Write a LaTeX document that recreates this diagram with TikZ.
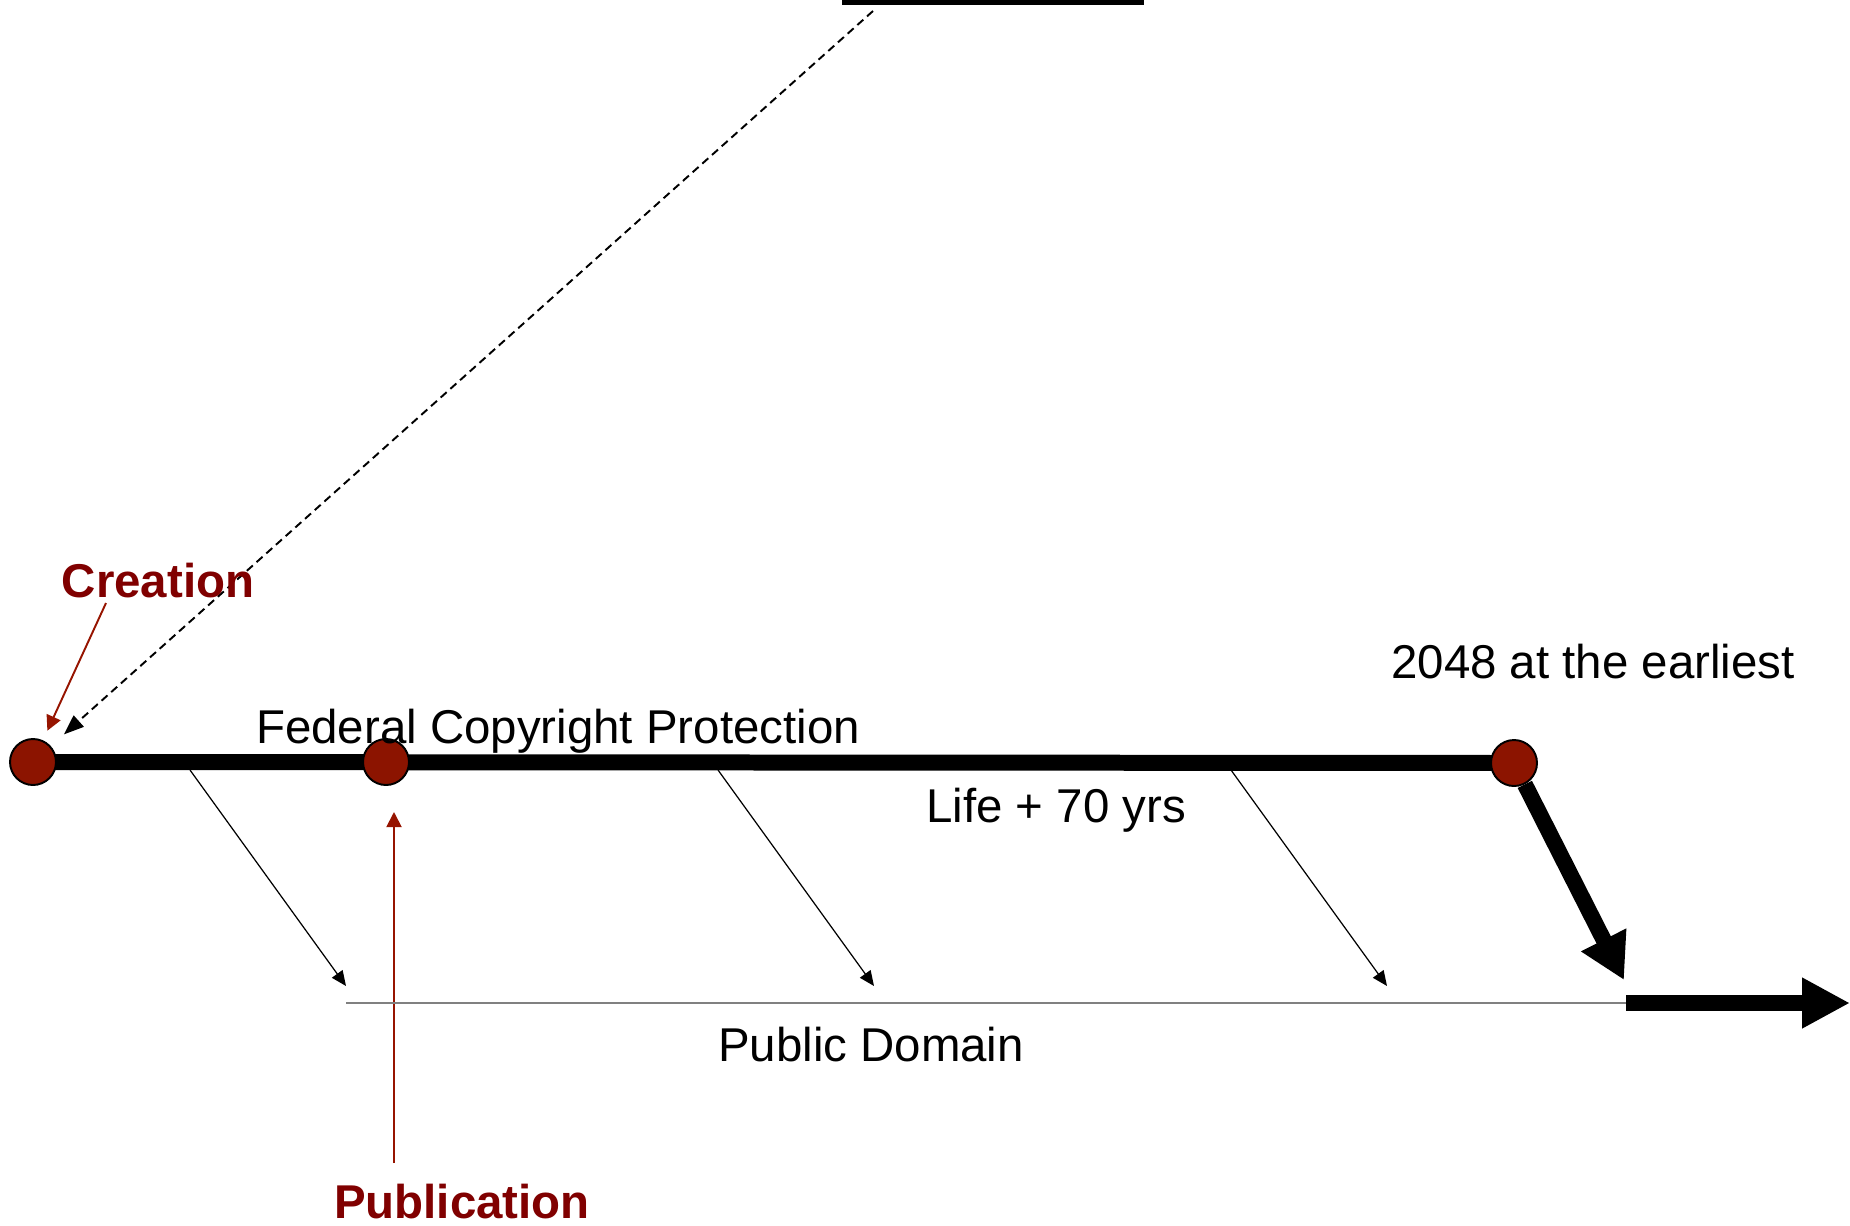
\documentclass[tikz,border=0pt]{standalone}
\usepackage{fontspec}
\setmainfont{Liberation Sans}
\usetikzlibrary{arrows.meta,backgrounds}
\definecolor{hito}{RGB}{140,20,0}
\definecolor{rotulo}{RGB}{128,0,0}
\definecolor{flecharoja}{RGB}{150,20,0}
\tikzset{
  dot/.style={circle,draw=black,line width=1.1pt,fill=hito,minimum size=0.92cm,inner sep=0pt},
  texto/.style={font=\fontsize{27}{32}\selectfont,anchor=base,inner sep=0pt},
  hitotexto/.style={font=\fontsize{27}{32}\selectfont\bfseries,text=rotulo,anchor=base,inner sep=0pt},
  grueso/.style={line width=0.32cm},
  fina/.style={line width=0.7pt,-{Triangle[length=0.3cm,width=0.26cm]}},
}
\begin{document}
\begin{tikzpicture}[x=0.02cm,y=-0.02cm]
\useasboundingbox (0,0) rectangle (1850,1225);

% Hitos
\node[dot] (cre) at (33,762) {};
\node[dot] (pub) at (386,762) {};
\node[dot] (fin) at (1514,763) {};

% Protección
\begin{scope}[on background layer]
\draw[grueso] (cre.center) -- (fin.center);
\end{scope}

% Barra superior y flecha punteada
\fill (842,0) rectangle (1144,5);
\coordinate (d0) at (873,11);
\draw[line width=1.1pt, dash pattern=on 0.16cm off 0.1cm, shorten >=0.35cm,
  -{Triangle[length=0.4cm,width=0.3cm]}] (d0) -- (cre);

% Textos
\node[hitotexto] (crelab) at (158,597) {Creation};
\node[hitotexto] (publab) at (462,1218) {Publication};
\node[texto] (prot) at (558,743) {Federal Copyright Protection};
\node[texto] (vida) at (1056,822) {Life + 70 yrs};
\node[texto] (fecha) at (1593,678) {2048 at the earliest};
\node[texto] (dominio) at (871,1061) {Public Domain};

% Flechas rojas
\coordinate (c0) at (106,603);
\draw[flecharoja, line width=1.1pt, shorten >=0.21cm,
  -{Triangle[length=0.3cm,width=0.3cm]}] (c0) -- (cre);
\coordinate (p0) at (394,1163);
\coordinate (p1) at (394,812);
\draw[flecharoja, line width=1.1pt, -{Triangle[length=0.3cm,width=0.3cm]}] (p0) -- (p1);

% Dominio público
\coordinate (codo) at (1624,980);
\coordinate (pd0) at (1626,1003);
\coordinate (pd1) at (1850,1003);
\coordinate (g0) at (346,1003);
\draw[gray, line width=0.75pt] (g0) -- (pd0);
\draw[grueso, -{Triangle[length=0.9cm,width=0.95cm]}] (fin) -- (codo);
\draw[grueso, -{Triangle[length=0.96cm,width=0.95cm]}] (pd0) -- (pd1);

% Paso al dominio público
\foreach \x/\n in {190/a,718/b,1231/c} {
  \coordinate (s\n) at (\x,770);
  \draw[fina] (s\n) -- ++(156,216);
}
\end{tikzpicture}
\end{document}
